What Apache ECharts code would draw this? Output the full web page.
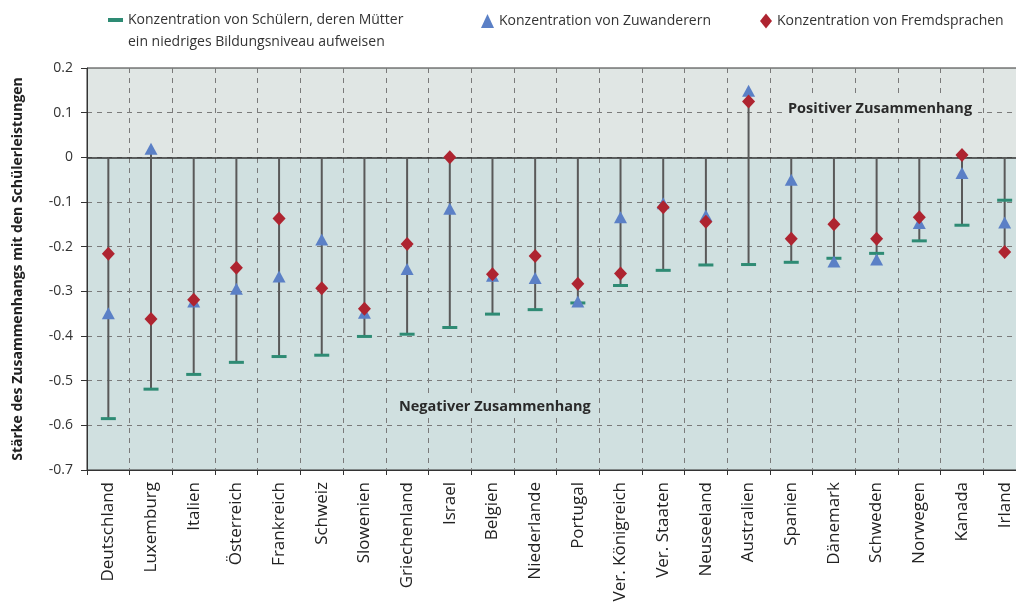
<!DOCTYPE html>
<html>
<head>
<meta charset="utf-8">
<script src="https://cdn.jsdelivr.net/npm/echarts@6/dist/echarts.min.js"></script>
<style>
html,body{margin:0;padding:0;background:#fff;}
#chart{width:1016px;height:606px;}
</style>
</head>
<body>
<div id="chart"></div>
<script>
const categories = ['Deutschland','Luxemburg','Italien','Österreich','Frankreich','Schweiz','Slowenien','Griechenland','Israel','Belgien','Niederlande','Portugal','Ver. Königreich','Ver. Staaten','Neuseeland','Australien','Spanien','Dänemark','Schweden','Norwegen','Kanada','Irland'];
const motherEducation = [-0.585,-0.519,-0.486,-0.459,-0.446,-0.443,-0.401,-0.396,-0.381,-0.351,-0.341,-0.326,-0.287,-0.253,-0.241,-0.240,-0.235,-0.226,-0.215,-0.187,-0.152,-0.096];
const immigrants = [-0.349,0.019,-0.323,-0.294,-0.267,-0.184,-0.348,-0.250,-0.115,-0.265,-0.270,-0.323,-0.134,-0.103,-0.130,0.149,-0.050,-0.233,-0.229,-0.147,-0.035,-0.146];
const languages = [-0.216,-0.362,-0.319,-0.247,-0.137,-0.293,-0.339,-0.194,0.000,-0.262,-0.221,-0.283,-0.260,-0.112,-0.144,0.125,-0.182,-0.150,-0.182,-0.134,0.005,-0.212];
const seriesNames = ['Konzentration von Schülern, deren Mütter\nein niedriges Bildungsniveau aufweisen','Konzentration von Zuwanderern','Konzentration von Fremdsprachen'];
const yAxisTitle = 'Stärke des Zusammenhangs mit den Schülerleistungen';
const areaLabels = ['Positiver Zusammenhang','Negativer Zusammenhang'];

const stems = categories.map((c, i) => {
  const vals = [motherEducation[i], immigrants[i], languages[i]];
  return [i, Math.max(0, ...vals), Math.min(...vals)];
});

const chart = echarts.init(document.getElementById('chart'));
const FONT = 'Open Sans';
const option = {
  animation: false,
  textStyle: { fontFamily: FONT },
  grid: { left: 87, top: 68, width: 939, height: 402, show: true, borderColor: '#333', borderWidth: 1, backgroundColor: 'transparent', containLabel: false, outerBoundsMode: 'none' },
  legend: [
    { data: [seriesNames[0]], left: 108, top: 9, padding: 0,
      icon: 'path://M0,0L15,0L15,4L0,4Z M0,26L0.001,26L0,26.001Z', itemWidth: 15, itemHeight: 26,
      textStyle: { fontFamily: FONT, fontSize: 14, color: '#333', lineHeight: 22 } },
    { data: [seriesNames[1]], left: 481, top: 10, padding: 0, icon: 'triangle', itemWidth: 13, itemHeight: 14,
      textStyle: { fontFamily: FONT, fontSize: 14, color: '#333', lineHeight: 22 } },
    { data: [seriesNames[2]], left: 760, top: 10, padding: 0, icon: 'diamond', itemWidth: 12, itemHeight: 15,
      textStyle: { fontFamily: FONT, fontSize: 14, color: '#333', lineHeight: 22 } }
  ],
  xAxis: {
    type: 'category', data: categories, boundaryGap: true,
    axisLine: { show: true, onZero: false, lineStyle: { color: '#333', width: 1 } },
    axisTick: { show: true, length: 5, lineStyle: { color: '#333' } },
    axisLabel: { rotate: 90, margin: 12, fontFamily: FONT, fontSize: 17, color: '#222', interval: 0 },
    splitLine: { show: true, showMinLine: false, showMaxLine: false, lineStyle: { color: '#7a7a7a', type: [5, 5], width: 1 } }
  },
  yAxis: {
    type: 'value', min: -0.7, max: 0.2, interval: 0.1,
    name: yAxisTitle, nameLocation: 'middle', nameRotate: 90, nameGap: 62,
    nameTextStyle: { fontFamily: FONT, fontWeight: 'bold', fontSize: 14, color: '#222' },
    axisLine: { show: true, lineStyle: { color: '#333', width: 1 } },
    axisTick: { show: true, length: 6, lineStyle: { color: '#333' } },
    axisLabel: { margin: 14, fontFamily: FONT, fontSize: 14, color: '#333',
      formatter: v => { const r = Math.round(v * 10) / 10; return r === 0 ? '0' : r.toFixed(1); } },
    splitLine: { show: true, showMinLine: false, showMaxLine: false, lineStyle: { color: '#7a7a7a', type: [5, 5], width: 1 } }
  },
  series: [
    {
      name: 'stems', type: 'custom', z: 2, silent: true,
      data: stems,
      encode: { x: 0, y: [1, 2] },
      renderItem: (params, api) => {
        const x = api.value(0);
        const p1 = api.coord([x, api.value(1)]);
        const p2 = api.coord([x, api.value(2)]);
        return { type: 'line', shape: { x1: p1[0], y1: p1[1], x2: p2[0], y2: p2[1] }, style: { stroke: '#595959', lineWidth: 2 } };
      },
      markArea: {
        silent: true, z: -1,
        data: [
          [{ yAxis: 0, itemStyle: { color: '#e0e6e4' } }, { yAxis: 0.2 }],
          [{ yAxis: -0.7, itemStyle: { color: '#d0e0e0' } }, { yAxis: 0 }]
        ]
      },
      markLine: {
        silent: true, z: 1, symbol: ['none', 'none'], label: { show: false },
        lineStyle: { color: '#333', type: 'solid', width: 1.5 },
        data: [{ yAxis: 0 }]
      }
    },
    {
      name: seriesNames[0], type: 'scatter', z: 3, symbol: 'rect', symbolSize: [15, 3],
      itemStyle: { color: '#2e8b74', opacity: 1 }, data: motherEducation
    },
    {
      name: seriesNames[1], type: 'scatter', z: 4, symbol: 'triangle', symbolSize: [13, 12],
      itemStyle: { color: '#5b80c6', opacity: 1 }, data: immigrants
    },
    {
      name: seriesNames[2], type: 'scatter', z: 5, symbol: 'diamond', symbolSize: [13, 14],
      itemStyle: { color: '#ae2430', opacity: 1 }, data: languages
    }
  ],
  graphic: [
    { type: 'text', z: 10, left: 782, top: 98,
      style: { text: areaLabels[0], font: 'bold 14.5px "Open Sans"', fill: '#2a2a2a', backgroundColor: '#e0e6e4', padding: [3, 6, 3, 6] } },
    { type: 'text', z: 10, left: 393, top: 396,
      style: { text: areaLabels[1], font: 'bold 14.5px "Open Sans"', fill: '#2a2a2a', backgroundColor: '#d0e0e0', padding: [3, 6, 3, 6] } }
  ]
};
chart.setOption(option);
</script>
</body>
</html>
